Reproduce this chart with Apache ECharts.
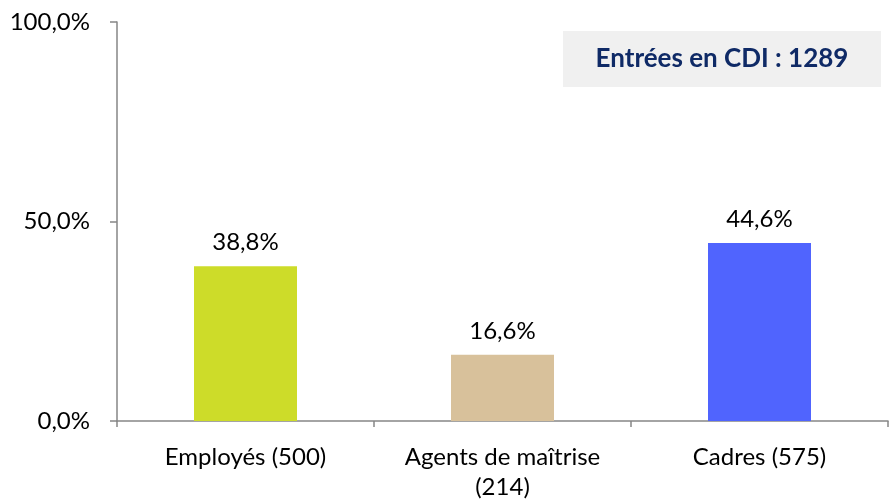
<!DOCTYPE html>
<html>
<head>
<meta charset="utf-8">
<script src="https://cdn.jsdelivr.net/npm/echarts@6/dist/echarts.min.js"></script>
<style>
  html, body { margin: 0; padding: 0; background: #fff; }
  #chart { width: 892px; height: 500px; }
</style>
</head>
<body>
<div id="chart"></div>
<script>
// Répartition des entrées en CDI par catégorie
const categories = ['Employés (500)', 'Agents de maîtrise\n(214)', 'Cadres (575)'];
const shares = [38.8, 16.6, 44.6];
const barColors = ['#cddc29', '#d8c19b', '#5064fe'];
const yTicks = [0, 50, 100];
const totalLabel = 'Entrées en CDI : 1289';

const fmt = v => v.toFixed(1).replace('.', ',') + '%';
const font = 'Lato, "Open Sans", sans-serif';

const chart = echarts.init(document.getElementById('chart'), null, { renderer: 'canvas' });
chart.setOption({
  animation: false,
  grid: { left: 117, right: 4, top: 22, bottom: 79, containLabel: false, outerBoundsMode: 'none' },
  xAxis: {
    type: 'category',
    data: categories,
    axisLine: { lineStyle: { color: '#868686', width: 1.5 } },
    axisTick: { show: true, length: 6, lineStyle: { color: '#868686', width: 1.5 } },
    axisLabel: { color: '#000', fontSize: 24, fontFamily: font, margin: 21, lineHeight: 30 }
  },
  yAxis: {
    type: 'value',
    min: 0, max: 100, interval: 50,
    axisLine: { show: true, lineStyle: { color: '#868686', width: 1.5 } },
    axisTick: { show: true, length: 7, lineStyle: { color: '#868686', width: 1.5 } },
    splitLine: { show: false },
    axisLabel: {
      color: '#000', fontSize: 24, fontFamily: font, margin: 27,
      formatter: v => yTicks.includes(v) ? fmt(v) : ''
    }
  },
  series: [{
    type: 'bar',
    data: shares.map((v, i) => ({ value: v, itemStyle: { color: barColors[i] } })),
    barWidth: 103,
    label: {
      show: true, position: 'top', distance: 12,
      color: '#000', fontSize: 24, fontFamily: font,
      formatter: p => fmt(p.value)
    }
  }],
  graphic: [{
    type: 'group',
    left: 563, top: 31,
    children: [
      { type: 'rect', shape: { x: 0, y: 0, width: 318, height: 56 }, style: { fill: '#f0f0f0' } },
      {
        type: 'text', x: 159, y: 28,
        style: {
          text: totalLabel, fill: '#0f2a66', font: 'bold 26px ' + font,
          textAlign: 'center', textVerticalAlign: 'middle'
        }
      }
    ]
  }]
});
</script>
</body>
</html>
